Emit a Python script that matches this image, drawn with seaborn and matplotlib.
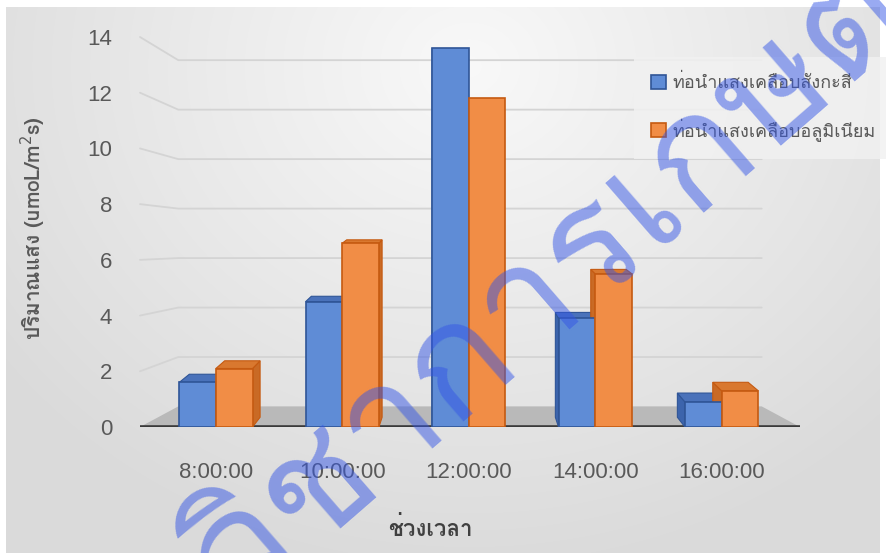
import numpy as np
import pandas as pd
import matplotlib
matplotlib.use("Agg")
import matplotlib.pyplot as plt
import matplotlib.transforms as mtransforms
from matplotlib import font_manager
from matplotlib.ft2font import FT2Font
from matplotlib.patches import Patch, Polygon
import seaborn as sns

# ---- data -------------------------------------------------------------
times = ["8:00:00", "10:00:00", "12:00:00", "14:00:00", "16:00:00"]
series_names = ["ท่อนำแสงเคลือบสังกะสี", "ท่อนำแสงเคลือบอลูมิเนียม"]
zinc_values = [1.6, 4.5, 13.6, 3.9, 0.9]
alu_values = [2.1, 6.6, 11.8, 5.5, 1.3]
y_ticks = [0, 2, 4, 6, 8, 10, 12, 14]
x_title = "ช่วงเวลา"
y_title = "ปริมาณแสง (umoL/m$^2$s)"
watermark = "วิชาการเกษตร"

FRONT = ["#5F8CD6", "#F18D46"]
EDGE = ["#2F5597", "#C55A11"]
SIDE = ["#3C64AC", "#C96A25"]
TOP = ["#4A72BA", "#D9782F"]


def thai_family():
    """First installed family that carries Thai glyphs."""
    seen = set()
    for f in font_manager.fontManager.ttflist:
        if f.fname in seen:
            continue
        seen.add(f.fname)
        try:
            if FT2Font(f.fname).get_char_index(ord("ก")):
                return f.name
        except Exception:
            pass
    return "DejaVu Sans"


sns.set_theme(style="white")
THAI = thai_family()
plt.rcParams["font.family"] = [THAI, "Liberation Sans", "DejaVu Sans"]

W, H = 887, 553
fig = plt.figure(figsize=(W / 100, H / 100), dpi=100)
fig.patch.set_facecolor("white")

# soft radial grey background
bg = fig.add_axes([6 / W, 0, (880 - 6) / W, (H - 7) / H], zorder=-5)
yy, xx = np.mgrid[0:H, 0:W]
r = np.sqrt(((xx - 470) / 600.0) ** 2 + ((yy - 60) / 520.0) ** 2)
shade = 0.975 - 0.12 * np.clip(r, 0, 1.0)
bg.imshow(np.dstack([shade] * 3), aspect="auto", interpolation="bilinear")
bg.axis("off")

# plot area: front edge of the floor is the zero line
ax = fig.add_axes([140 / W, (H - 427) / H, 660 / W, 390 / H])
ax.set_facecolor("none")

df = pd.DataFrame({
    "time": times * 2,
    "value": zinc_values + alu_values,
    "series": [series_names[0]] * len(times) + [series_names[1]] * len(times),
})

sns.barplot(data=df, x="time", y="value", hue="series", palette=FRONT,
            saturation=1, width=0.58, ax=ax, legend=False, zorder=3)

ax.set_xlim(-0.6, 4.62)
ax.set_ylim(0, 14)

blend = mtransforms.blended_transform_factory(ax.transAxes, ax.transData)

# gridlines on the back wall, bent forward at the left side wall
wall_off, wall_scale = 0.736, 0.888
for t in y_ticks[1:]:
    tb = wall_off + wall_scale * t
    ax.plot([0, 0.058, 0.942], [t, tb, tb], transform=blend,
            color="#D4D4D4", lw=1.3, zorder=0, clip_on=False)

# grey floor with a dark front edge
floor = Polygon([(0, 0), (1, 0), (0.942, 0.74), (0.058, 0.74)], closed=True,
                transform=blend, facecolor="#B9B9B9", edgecolor="none", zorder=1)
ax.add_patch(floor)
ax.axhline(0, color="#3A3A3A", lw=2.6, zorder=2)

# bar edges plus simple perspective faces
vp_x, vp_y, s = 2.0, 10.0, 0.965


def back(px, py):
    return (vp_x + (px - vp_x) * s, vp_y + (py - vp_y) * s)


for k, cont in enumerate(ax.containers):
    for bar in cont:
        bar.set_edgecolor(EDGE[k])
        bar.set_linewidth(1.2)
        bar.set_zorder(4)
        x0, y0 = bar.get_x(), bar.get_y()
        x1, y1 = x0 + bar.get_width(), y0 + bar.get_height()
        xe = x1 if x1 < vp_x else x0
        side = [(xe, y0), back(xe, y0), back(xe, y1), (xe, y1)]
        ax.add_patch(Polygon(side, closed=True, facecolor=SIDE[k],
                             edgecolor=EDGE[k], lw=0.8, zorder=3))
        if y1 < vp_y:
            top = [(x0, y1), (x1, y1), back(x1, y1), back(x0, y1)]
            ax.add_patch(Polygon(top, closed=True, facecolor=TOP[k],
                                 edgecolor=EDGE[k], lw=0.8, zorder=3))

ax.set_yticks(y_ticks)
ax.set_yticklabels([str(t) for t in y_ticks])
ax.tick_params(axis="y", length=0, pad=20, labelsize=16, labelcolor="#595959")
ax.tick_params(axis="x", length=0, pad=25, labelsize=16, labelcolor="#595959")
for lab in ax.get_xticklabels() + ax.get_yticklabels():
    lab.set_family(["Liberation Sans", "DejaVu Sans"])
ax.set_xlabel("")
ax.set_ylabel("")
for sp in ax.spines.values():
    sp.set_visible(False)

fig.text(430 / W, 1 - 528 / H, x_title, ha="center", va="center",
         fontsize=16, fontweight="bold", color="#404040")
fig.text(33 / W, 1 - 228 / H, y_title, ha="center", va="center", rotation=90,
         fontsize=15, fontweight="bold", color="#595959")

handles = [Patch(facecolor=FRONT[i], edgecolor=EDGE[i], lw=1.2) for i in range(2)]
leg = fig.legend(handles, series_names, loc="upper left",
                 bbox_to_anchor=(634 / W, 1 - 57 / H), frameon=True,
                 fontsize=13, labelspacing=1.45, handlelength=0.8,
                 handleheight=0.8, handletextpad=0.4, borderpad=0.95,
                 borderaxespad=0, labelcolor="#595959", fancybox=False)
leg.get_frame().set_facecolor("#F1F1F1")
leg.get_frame().set_alpha(0.85)
leg.get_frame().set_edgecolor("none")

fig.text(585 / W, 1 - 262 / H, watermark, ha="center", va="center",
         rotation=41, fontsize=112, fontweight="normal",
         color="#3355E6", alpha=0.5, zorder=20)

fig.savefig("out.png", dpi=100)
